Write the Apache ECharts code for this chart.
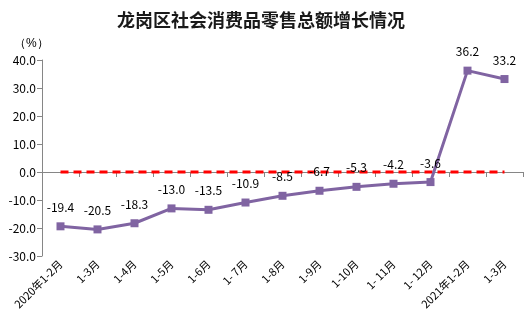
<!DOCTYPE html>
<html><head><meta charset="utf-8">
<script src="https://cdn.jsdelivr.net/npm/echarts@6/dist/echarts.min.js"></script>
<style>html,body{margin:0;padding:0;background:#fff}#c{width:530px;height:324px}</style>
</head><body><div id="c"></div>
<script>
var categories = ["2020年1-2月","1-3月","1-4月","1-5月","1-6月","1- 7月","1-8月","1-9月","1-10月","1- 11月","1- 12月","2021年1-2月","1-3月"];
var growth = [-19.4,-20.5,-18.3,-13.0,-13.5,-10.9,-8.5,-6.7,-5.3,-4.2,-3.6,36.2,33.2];
var zeroLine = [0,0,0,0,0,0,0,0,0,0,0,0,0];
var yTicks = {min:-30, max:40, interval:10};

var chart = echarts.init(document.getElementById('c'));
chart.setOption({
  animation:false,
  textStyle:{fontFamily:'"Noto Sans CJK SC", "Noto Sans", sans-serif'},
  title:{text:'龙岗区社会消费品零售总额增长情况', left:256, textAlign:'center', top:6,
    textStyle:{fontSize:18, fontWeight:'bold', color:'#1a1a1a', fontFamily:'"Noto Sans CJK SC", sans-serif'}},
  graphic:[{type:'text', left:14, top:38, style:{text:'（%）', fontSize:12, fill:'#000', font:'12px "Noto Sans CJK SC", sans-serif'}}],
  grid:{left:42, right:7, top:60, bottom:68, containLabel:false},
  xAxis:{type:'category', data:categories, boundaryGap:true,
    axisLine:{lineStyle:{color:'#868686'}},
    axisTick:{show:true, length:5, lineStyle:{color:'#868686'}},
    axisLabel:{rotate:45, fontSize:11, color:'#000', margin:6, interval:0}},
  yAxis:{type:'value', min:yTicks.min, max:yTicks.max, interval:yTicks.interval,
    splitLine:{show:false},
    axisLine:{show:true, lineStyle:{color:'#868686'}},
    axisTick:{show:true, length:5, lineStyle:{color:'#868686'}},
    axisLabel:{fontSize:12, color:'#000', margin:6, formatter:function(v){return v.toFixed(1);}}},
  series:[
    {type:'line', data:zeroLine, symbol:'none', silent:true,
      lineStyle:{color:'#FF0000', width:3, type:[8,5]}, z:1},
    {type:'line', data:growth, symbol:'rect', symbolSize:8,
      itemStyle:{color:'#8064A2'}, lineStyle:{color:'#8064A2', width:3}, z:3,
      label:{show:true, position:'top', distance:9, fontSize:12, color:'#000',
        formatter:function(p){return p.value.toFixed(1);}}}
  ]
});
</script></body></html>
